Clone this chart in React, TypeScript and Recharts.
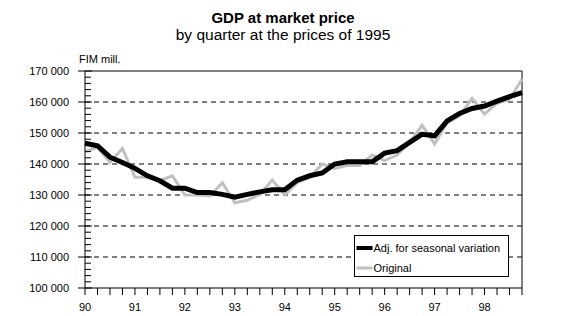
import React from 'react';
import { LineChart, Line, XAxis, YAxis, ReferenceLine } from 'recharts';

const quarters = [
  '1990Q1', '1990Q2', '1990Q3', '1990Q4',
  '1991Q1', '1991Q2', '1991Q3', '1991Q4',
  '1992Q1', '1992Q2', '1992Q3', '1992Q4',
  '1993Q1', '1993Q2', '1993Q3', '1993Q4',
  '1994Q1', '1994Q2', '1994Q3', '1994Q4',
  '1995Q1', '1995Q2', '1995Q3', '1995Q4',
  '1996Q1', '1996Q2', '1996Q3', '1996Q4',
  '1997Q1', '1997Q2', '1997Q3', '1997Q4',
  '1998Q1', '1998Q2', '1998Q3', '1998Q4',
];

const yearLabels = ['90', '91', '92', '93', '94', '95', '96', '97', '98'];

const adjusted = [
  146700, 145900, 142200, 140500,
  138600, 136200, 134600, 132200,
  132200, 130800, 130800, 130200,
  129300, 130200, 131000, 131700,
  131700, 134800, 136200, 137100,
  140000, 140700, 140700, 140700,
  143500, 144300, 147000, 149600,
  149100, 153900, 156300, 157900,
  158700, 160300, 161700, 163000,
];

const original = [
  144000, 145400, 140500, 145000,
  135700, 135700, 134600, 136200,
  130000, 130000, 129700, 134000,
  127500, 128300, 130200, 134800,
  130000, 134000, 135700, 140000,
  138600, 139500, 139500, 142900,
  141100, 142900, 147000, 152500,
  146500, 153200, 155500, 161100,
  156100, 159600, 160900, 167400,
];

const yTicks = [
  100000, 102000, 104000, 106000, 108000,
  110000, 112000, 114000, 116000, 118000,
  120000, 122000, 124000, 126000, 128000,
  130000, 132000, 134000, 136000, 138000,
  140000, 142000, 144000, 146000, 148000,
  150000, 152000, 154000, 156000, 158000,
  160000, 162000, 164000, 166000, 168000,
  170000,
];

const gridValues = [110000, 120000, 130000, 140000, 150000, 160000];

const titleText = 'GDP at market price';
const subtitleText = 'by quarter at the prices of 1995';
const unitText = 'FIM mill.';
const seriesNames = ['Adj. for seasonal variation', 'Original'];

const FONT = '"Liberation Sans", Arial, sans-serif';
const ADJ_COLOR = '#000000';
const ORIG_COLOR = '#c0c0c0';

const data = quarters.map((q, i) => ({ q, adj: adjusted[i], orig: original[i] }));

const fmt = (v: number) => `${Math.floor(v / 1000)} ${String(v % 1000).padStart(3, '0')}`;

const YTick = (props: any) => {
  const { x, y, payload } = props;
  const v = payload.value as number;
  const major = v % 10000 === 0;
  return (
    <g>
      {major ? (
        <line x1={x - 7} x2={x + 7} y1={y} y2={y} stroke="#000" />
      ) : (
        <line x1={x} x2={x + 6} y1={y} y2={y} stroke="#000" />
      )}
      {major && (
        <text x={x - 16} y={y} dy={4} textAnchor="end" fontSize={11} fontFamily={FONT} fill="#000">
          {fmt(v)}
        </text>
      )}
    </g>
  );
};

const XTick = (props: any) => {
  const { x, y, index } = props;
  const isYear = index % 4 === 0;
  return (
    <g>
      <line x1={x} x2={x} y1={y} y2={y + 7} stroke="#000" />
      {isYear && (
        <text x={x} y={y + 23} textAnchor="middle" fontSize={11} fontFamily={FONT} fill="#000">
          {yearLabels[index / 4]}
        </text>
      )}
    </g>
  );
};

export default function App() {
  return (
    <div style={{ position: 'absolute', left: 0, top: 0, width: 562, height: 316, background: '#fff' }}>
      <LineChart
        width={562}
        height={316}
        data={data}
        margin={{ top: 71, right: 40, left: 25, bottom: 0 }}
      >
        <XAxis
          dataKey="q"
          interval={0}
          height={28}
          tickSize={0}
          tickMargin={0}
          tickLine={false}
          axisLine={{ stroke: '#000' }}
          tick={<XTick />}
        />
        <YAxis
          width={60}
          domain={[100000, 170000]}
          ticks={yTicks}
          interval={0}
          tickSize={0}
          tickMargin={0}
          tickLine={false}
          axisLine={{ stroke: '#000' }}
          tick={<YTick />}
          allowDataOverflow
        />
        {gridValues.map((v) => (
          <ReferenceLine key={v} y={v} stroke="#000" strokeDasharray="5 4" />
        ))}
        <ReferenceLine y={170000} stroke="#000" />
        <ReferenceLine x={quarters[quarters.length - 1]} stroke="#000" />
        <Line
          type="linear"
          dataKey="orig"
          name={seriesNames[1]}
          stroke={ORIG_COLOR}
          strokeWidth={3}
          dot={false}
          isAnimationActive={false}
        />
        <Line
          type="linear"
          dataKey="adj"
          name={seriesNames[0]}
          stroke={ADJ_COLOR}
          strokeWidth={5}
          dot={false}
          isAnimationActive={false}
        />
      </LineChart>
      <svg
        width={562}
        height={316}
        style={{ position: 'absolute', left: 0, top: 0, pointerEvents: 'none' }}
      >
        <text x={283} y={23} textAnchor="middle" fontSize={15} fontWeight="bold" fontFamily={FONT} fill="#000">
          {titleText}
        </text>
        <text x={283} y={40} textAnchor="middle" fontSize={15.5} fontFamily={FONT} fill="#000">
          {subtitleText}
        </text>
        <text x={79} y={63} fontSize={11} fontFamily={FONT} fill="#000">
          {unitText}
        </text>
        <g transform="translate(354.5,235.5)">
          <rect x={0} y={0} width={154} height={41} fill="#fff" stroke="#000" />
          <line x1={2} x2={18} y1={12.5} y2={12.5} stroke={ADJ_COLOR} strokeWidth={4} />
          <text x={19} y={16.5} fontSize={11} fontFamily={FONT} fill="#000">{seriesNames[0]}</text>
          <line x1={2} x2={18} y1={32.5} y2={32.5} stroke={ORIG_COLOR} strokeWidth={3} />
          <text x={19} y={36.5} fontSize={11} fontFamily={FONT} fill="#000">{seriesNames[1]}</text>
        </g>
      </svg>
    </div>
  );
}
